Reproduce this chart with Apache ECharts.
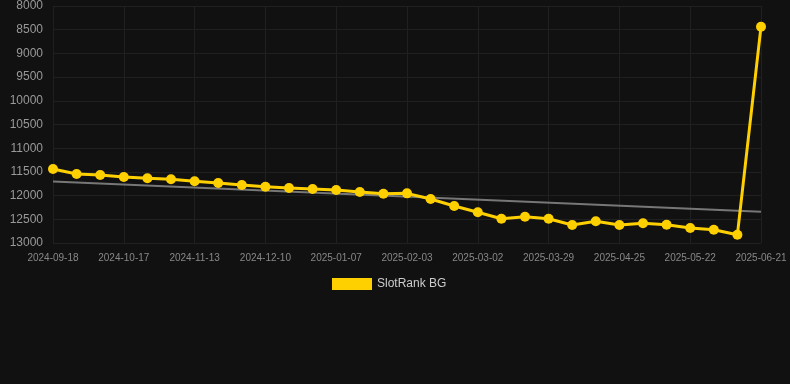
<!DOCTYPE html>
<html>
<head>
<meta charset="utf-8">
<script src="https://cdn.jsdelivr.net/npm/echarts@6/dist/echarts.min.js"></script>
<style>
  html, body { margin: 0; padding: 0; background: #111111; }
  #main { width: 790px; height: 384px; }
</style>
</head>
<body>
<div id="main"></div>
<script>
// dates on the category axis (labels shown every 3rd)
var dates = [
    '2024-09-18', '2024-09-28', '2024-10-07', '2024-10-17', '2024-10-26', '2024-11-04',
    '2024-11-13', '2024-11-22', '2024-12-01', '2024-12-10', '2024-12-19', '2024-12-29',
    '2025-01-07', '2025-01-16', '2025-01-25', '2025-02-03', '2025-02-12', '2025-02-21',
    '2025-03-02', '2025-03-11', '2025-03-20', '2025-03-29', '2025-04-07', '2025-04-16',
    '2025-04-25', '2025-05-04', '2025-05-13', '2025-05-22', '2025-06-01', '2025-06-11',
    '2025-06-21'
];
var rankBG = [
    11440, 11545, 11565, 11608, 11635, 11656, 11699, 11734, 11776, 11812, 11840,
    11861, 11882, 11924, 11960, 11953, 12072, 12219, 12352, 12487, 12445, 12487,
    12620, 12542, 12620, 12585, 12614, 12684, 12719, 12825, 8436
];
// trend line end points (first and last date)
var trendEnds = [11705, 12340];

var chart = echarts.init(document.getElementById('main'));
var option = {
    backgroundColor: '#111111',
    animation: false,
    grid: { left: 53, right: 29, top: 6, bottom: 141 },
    legend: {
        data: ['SlotRank BG'],
        left: 327,
        top: 273,
        icon: 'rect',
        itemWidth: 40,
        itemHeight: 12,
        textStyle: { color: '#cccccc', fontSize: 12 }
    },
    xAxis: {
        type: 'category',
        data: dates,
        boundaryGap: false,
        axisLine: { show: false },
        axisTick: { show: false },
        axisLabel: { interval: 2, color: '#888888', fontSize: 10, margin: 10 },
        splitLine: { show: true, interval: 2, lineStyle: { color: '#202020' } }
    },
    yAxis: {
        type: 'value',
        inverse: true,
        min: 8000,
        max: 13000,
        interval: 500,
        axisLine: { show: false },
        axisTick: { show: false },
        axisLabel: {
            color: '#999999', fontSize: 12, margin: 10,
            formatter: function (v) { return String(v); }
        },
        splitLine: { lineStyle: { color: '#202020' } }
    },
    series: [
        {
            name: 'trend',
            type: 'line',
            data: [[dates[0], trendEnds[0]], [dates[dates.length - 1], trendEnds[1]]],
            symbol: 'none',
            lineStyle: { color: '#777777', width: 2 },
            z: 1
        },
        {
            name: 'SlotRank BG',
            type: 'line',
            data: rankBG,
            symbol: 'circle',
            symbolSize: 10,
            itemStyle: { color: '#FFD000' },
            lineStyle: { color: '#FFD000', width: 3 },
            z: 2
        }
    ]
};
chart.setOption(option);
</script>
</body>
</html>
